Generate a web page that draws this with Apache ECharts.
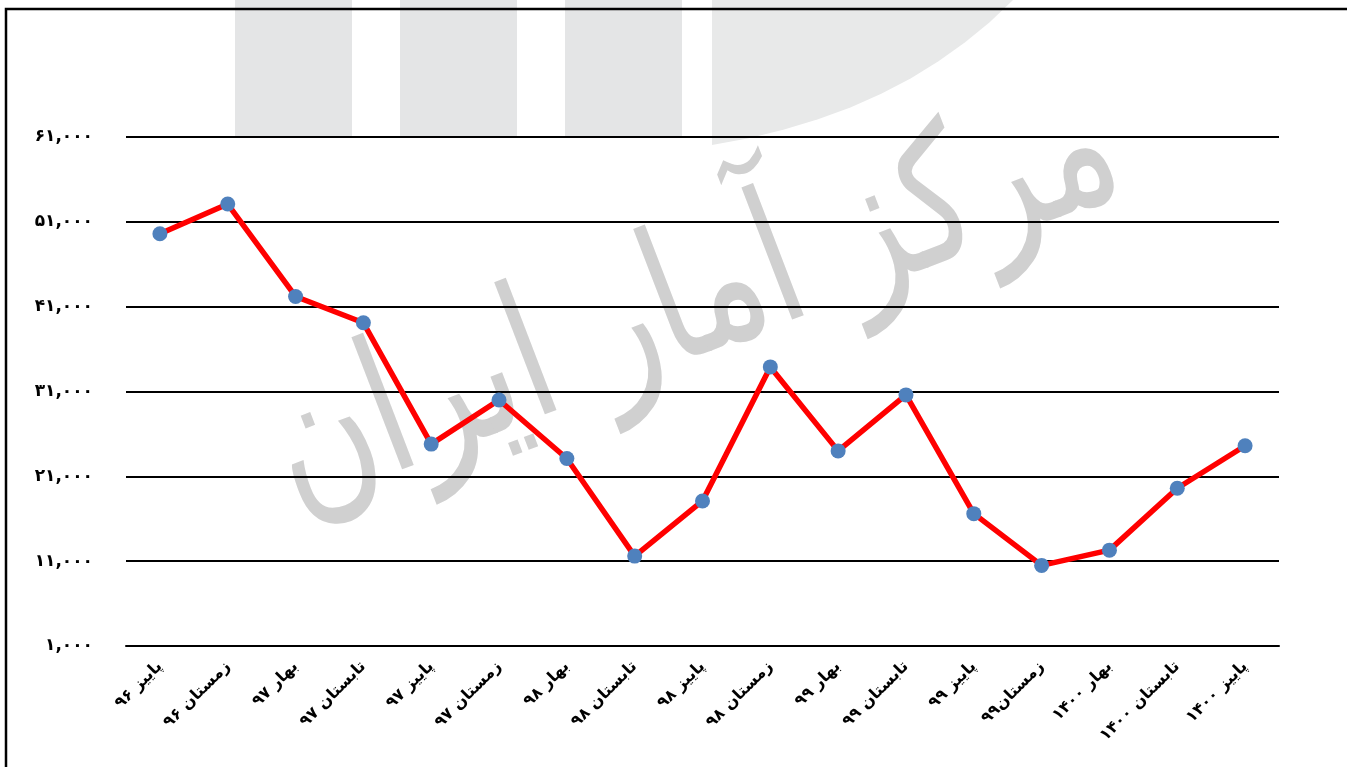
<!DOCTYPE html>
<html>
<head>
<meta charset="utf-8">
<script src="https://cdn.jsdelivr.net/npm/echarts@6/dist/echarts.min.js"></script>
<style>
    html, body { margin: 0; padding: 0; background: #fff; }
    #chart { width: 1347px; height: 767px; }
</style>
</head>
<body>
<div id="chart"></div>
<script>
    // فصل ها
    const categories = ['پاییز ۹۶', 'زمستان ۹۶', 'بهار ۹۷', 'تابستان ۹۷', 'پاییز ۹۷', 'زمستان ۹۷',
        'بهار ۹۸', 'تابستان ۹۸', 'پاییز ۹۸', 'زمستان ۹۸', 'بهار ۹۹', 'تابستان ۹۹',
        'پاییز ۹۹', 'زمستان۹۹', 'بهار ۱۴۰۰', 'تابستان ۱۴۰۰', 'پاییز ۱۴۰۰']
    const values = [49600, 53100, 42200, 39100, 24800, 30000, 23100, 11600, 18100,
        33900, 24000, 30600, 16600, 10500, 12300, 19600, 24600]
    const yTicks = [1000, 11000, 21000, 31000, 41000, 51000, 61000]
    const watermarkText = 'مرکز آمار ایران'

    const faDigits = '۰۱۲۳۴۵۶۷۸۹'
    const toFa = v => String(v).replace(/\B(?=(\d{3})+(?!\d))/g, ',').replace(/\d/g, d => faDigits[d])

    // logo arc (background decoration)
    const arcPts = [[712, 0]]
    for (let t = 0; t <= 1.0001; t += 0.1) {
        const x = (1 - t) * (1 - t) * 1013 + 2 * t * (1 - t) * 900 + t * t * 712
        const y = 2 * t * (1 - t) * 115 + t * t * 145
        arcPts.push([x, y])
    }

    const chart = echarts.init(document.getElementById('chart'))
    const bg = '#e4e5e6'
    const option = {
        animation: false,
        backgroundColor: '#fff',
        textStyle: { fontFamily: 'DejaVu Sans' },
        grid: { left: 126, right: 68, top: 137, bottom: 121 },
        graphic: [
            { type: 'rect', z: -10, shape: { x: 235, y: 0, width: 117, height: 137 }, style: { fill: bg } },
            { type: 'rect', z: -10, shape: { x: 400, y: 0, width: 117, height: 137 }, style: { fill: bg } },
            { type: 'rect', z: -10, shape: { x: 565, y: 0, width: 117, height: 137 }, style: { fill: bg } },
            { type: 'polygon', z: -10, shape: { points: arcPts }, style: { fill: '#e8e9e9' } },
            {
                type: 'text', z: -10, x: 695, y: 305, rotation: 21 * Math.PI / 180,
                scaleY: 1.35,
                style: {
                    text: watermarkText, fill: '#d0d0d0', fontSize: 138, fontFamily: 'DejaVu Sans',
                    align: 'center', verticalAlign: 'middle'
                }
            },
            {
                type: 'rect', z: 100, silent: true,
                shape: { x: 6, y: 9, width: 1400, height: 800 },
                style: { fill: 'none', stroke: '#000', lineWidth: 2.5 }
            }
        ],
        xAxis: {
            type: 'category',
            data: categories,
            boundaryGap: true,
            axisLine: { lineStyle: { color: '#000', width: 2 } },
            axisTick: { show: false },
            axisLabel: {
                rotate: 45, margin: 18, color: '#000', fontSize: 16, fontWeight: 'bold',
                interval: 0, fontFamily: 'DejaVu Sans'
            }
        },
        yAxis: {
            type: 'value',
            min: 1000,
            max: 61000,
            axisLine: { show: false },
            axisTick: { show: false, customValues: yTicks },
            axisLabel: {
                customValues: yTicks,
                margin: 33, color: '#000', fontSize: 17, fontWeight: 'bold',
                formatter: v => toFa(v)
            },
            splitLine: { lineStyle: { color: '#000', width: 2 } }
        },
        series: [{
            type: 'line',
            data: values,
            symbol: 'circle',
            symbolSize: 15,
            lineStyle: { color: '#ff0000', width: 5.5 },
            itemStyle: { color: '#4f81bd' },
            z: 5
        }]
    }
    chart.setOption(option)
</script>
</body>
</html>
